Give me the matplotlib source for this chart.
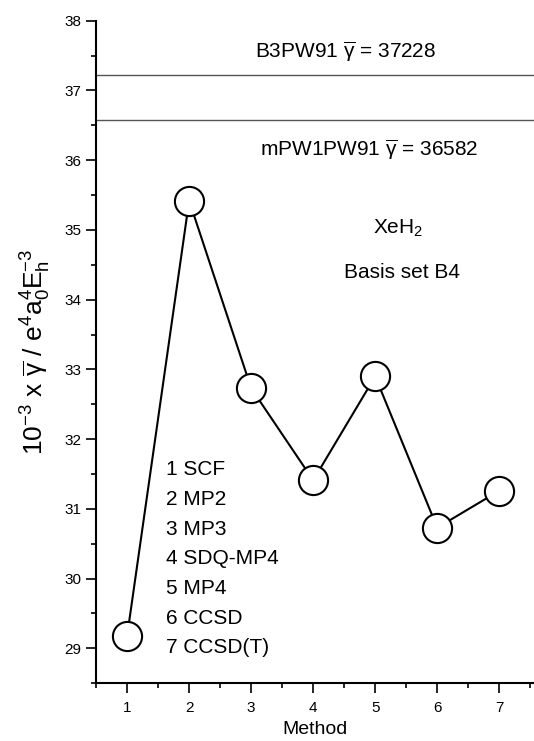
import numpy as np
import matplotlib
matplotlib.use("Agg")
import matplotlib.pyplot as plt
from matplotlib.ticker import MultipleLocator

plt.rcParams["font.family"] = ["Liberation Sans", "DejaVu Sans"]
plt.rcParams["mathtext.fontset"] = "custom"
plt.rcParams["mathtext.rm"] = "Liberation Sans"
plt.rcParams["mathtext.it"] = "Liberation Sans:italic"
plt.rcParams["mathtext.default"] = "regular"

# data
methods = [1, 2, 3, 4, 5, 6, 7]
gamma = [29.18, 35.42, 32.73, 31.41, 32.90, 30.73, 31.26]
method_names = ["1 SCF", "2 MP2", "3 MP3", "4 SDQ-MP4", "5 MP4", "6 CCSD", "7 CCSD(T)"]
dft_values = [37.228, 36.582]
dft_labels = [r"B3PW91 $\overline{\gamma}$ = 37228", r"mPW1PW91 $\overline{\gamma}$ = 36582"]

fig = plt.figure(figsize=(5.34, 7.41), dpi=100)
ax = fig.add_axes([0.18, 0.078, 0.82, 0.894])

for v in dft_values:
    ax.axhline(v, color="#555555", lw=1.0, zorder=1)

ax.plot(methods, gamma, color="black", lw=1.5, marker="o", ms=21,
        mfc="white", mec="black", mew=1.5, zorder=3)

ax.text(4.515, 37.55, dft_labels[0], ha="center", va="center", fontsize=15)
ax.text(4.9, 36.15, dft_labels[1], ha="center", va="center", fontsize=15)
ax.text(5.37, 35.03, r"XeH$_2$", ha="center", va="center", fontsize=15)
ax.text(5.43, 34.39, "Basis set B4", ha="center", va="center", fontsize=15)

for i, name in enumerate(method_names):
    ax.text(1.62, 31.56 - i * 0.425, name, ha="left", va="center", fontsize=15)

ax.set_xlim(0.5, 7.56)
ax.set_ylim(28.5, 38)
ax.xaxis.set_major_locator(MultipleLocator(1))
ax.xaxis.set_minor_locator(MultipleLocator(0.5))
ax.yaxis.set_major_locator(MultipleLocator(1))
ax.yaxis.set_minor_locator(MultipleLocator(0.5))
ax.tick_params(which="major", direction="out", length=7, width=1.2, labelsize=11)
ax.tick_params(which="minor", direction="out", length=3.6, width=1.2)
ax.tick_params(axis="x", pad=6)
for s in ["top", "right"]:
    ax.spines[s].set_visible(False)
for s in ["left", "bottom"]:
    ax.spines[s].set_linewidth(1.5)

ax.set_xlabel("Method", fontsize=14, labelpad=4)
ax.set_ylabel(r"$10^{-3}$ x $\overline{\gamma}$ / e$^4$a$_0^4$E$_h^{-3}$", fontsize=19, labelpad=8)

fig.savefig("out.png", dpi=100)
